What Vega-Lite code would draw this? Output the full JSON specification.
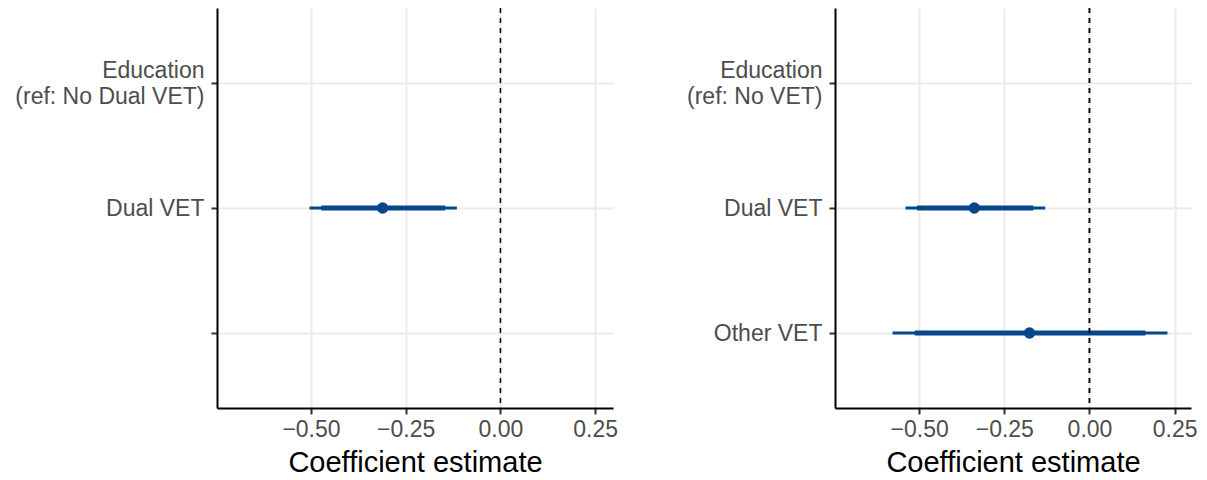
{
  "$schema": "https://vega.github.io/schema/vega-lite/v6.json",
  "padding": {"left": 14, "top": 7, "right": 5, "bottom": 5},
  "background": "white",
  "spacing": 222,
  "bounds": "flush",
  "config": {
    "view": {"stroke": null},
    "font": "Liberation Sans",
    "axis": {
      "labelFont": "Liberation Sans",
      "labelFontSize": 23,
      "labelColor": "#4D4D4D",
      "labelLimit": 400,
      "domainColor": "black",
      "domainWidth": 2,
      "tickColor": "#333333",
      "tickWidth": 2,
      "tickSize": 6,
      "gridColor": "#EBEBEB",
      "gridWidth": 2,
      "titleFont": "Liberation Sans",
      "titleFontSize": 29,
      "titleFontWeight": "normal",
      "titleColor": "black"
    }
  },
  "datasets": {
    "left": [
      {"term": "Dual VET", "est": -0.311, "lo95": -0.504, "hi95": -0.115, "lo90": -0.473, "hi90": -0.146}
    ],
    "right": [
      {"term": "Dual VET", "est": -0.338, "lo95": -0.540, "hi95": -0.130, "lo90": -0.506, "hi90": -0.165},
      {"term": "Other VET", "est": -0.176, "lo95": -0.578, "hi95": 0.229, "lo90": -0.513, "hi90": 0.164}
    ]
  },
  "hconcat": [
    {
      "width": 396,
      "height": 400,
      "data": {"name": "left"},
      "layer": [
        {
          "mark": {"type": "rule", "color": "#07468A", "strokeWidth": 2.8},
          "encoding": {
            "y": {"field": "term", "type": "nominal",
              "scale": {"type": "point", "padding": 0.6, "domain": ["Education\n(ref: No Dual VET)", "Dual VET", "blank"]},
              "axis": {"title": null, "grid": true, "labelPadding": 7, "labelLineHeight": 26,
                "labelOffset": {"condition": {"test": "indexof(datum.value, '\\n') >= 0", "value": -13}, "value": 0},
                "labelExpr": "datum.label == 'blank' ? '' : split(datum.label, '\\n')"}},
            "x": {"field": "lo95", "type": "quantitative",
              "scale": {"domain": [-0.748, 0.297], "nice": false, "zero": false},
              "axis": {"values": [-0.5, -0.25, 0, 0.25], "format": ".2f", "title": "Coefficient estimate", "grid": true, "labelPadding": 4, "titlePadding": 7}},
            "x2": {"field": "hi95"}
          }
        },
        {
          "mark": {"type": "rule", "color": "#07468A", "strokeWidth": 5},
          "encoding": {
            "y": {"field": "term", "type": "nominal"},
            "x": {"field": "lo90", "type": "quantitative"},
            "x2": {"field": "hi90"}
          }
        },
        {
          "mark": {"type": "point", "filled": true, "color": "#07468A", "opacity": 1, "size": 130},
          "encoding": {
            "y": {"field": "term", "type": "nominal"},
            "x": {"field": "est", "type": "quantitative"}
          }
        },
        {
          "mark": {"type": "rule", "color": "black", "strokeWidth": 1.5, "strokeDash": [5, 5]},
          "encoding": {"x": {"datum": 0}}
        }
      ]
    },
    {
      "width": 356,
      "height": 400,
      "data": {"name": "right"},
      "layer": [
        {
          "mark": {"type": "rule", "color": "#07468A", "strokeWidth": 2.8},
          "encoding": {
            "y": {"field": "term", "type": "nominal",
              "scale": {"type": "point", "padding": 0.6, "domain": ["Education\n(ref: No VET)", "Dual VET", "Other VET"]},
              "axis": {"title": null, "grid": true, "labelPadding": 7, "labelLineHeight": 26,
                "labelOffset": {"condition": {"test": "indexof(datum.value, '\\n') >= 0", "value": -13}, "value": 0},
                "labelExpr": "split(datum.label, '\\n')"}},
            "x": {"field": "lo95", "type": "quantitative",
              "scale": {"domain": [-0.747, 0.298], "nice": false, "zero": false},
              "axis": {"values": [-0.5, -0.25, 0, 0.25], "format": ".2f", "title": "Coefficient estimate", "grid": true, "labelPadding": 4, "titlePadding": 7}},
            "x2": {"field": "hi95"}
          }
        },
        {
          "mark": {"type": "rule", "color": "#07468A", "strokeWidth": 5},
          "encoding": {
            "y": {"field": "term", "type": "nominal"},
            "x": {"field": "lo90", "type": "quantitative"},
            "x2": {"field": "hi90"}
          }
        },
        {
          "mark": {"type": "point", "filled": true, "color": "#07468A", "opacity": 1, "size": 130},
          "encoding": {
            "y": {"field": "term", "type": "nominal"},
            "x": {"field": "est", "type": "quantitative"}
          }
        },
        {
          "mark": {"type": "rule", "color": "black", "strokeWidth": 1.5, "strokeDash": [5, 5]},
          "encoding": {"x": {"datum": 0}}
        }
      ]
    }
  ]
}
